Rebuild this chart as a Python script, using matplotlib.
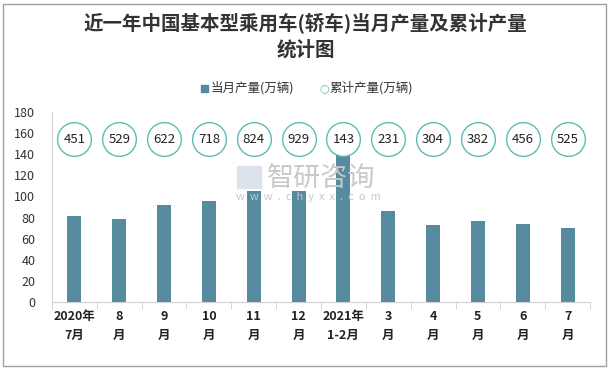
import numpy as np
import matplotlib.pyplot as plt
from matplotlib.patches import Rectangle

plt.rcParams['font.family'] = ['Noto Sans CJK SC', 'DejaVu Sans']

months = ['2020年\n7月', '8\n月', '9\n月', '10\n月', '11\n月', '12\n月',
          '2021年\n1-2月', '3\n月', '4\n月', '5\n月', '6\n月', '7\n月']
monthly = [81.5, 78.6, 91.9, 95.7, 105.1, 105.0, 142.0, 86.2, 72.9, 76.7, 73.9, 70.1]
cumulative = [451, 529, 622, 718, 824, 929, 143, 231, 304, 382, 456, 525]

bar_color = '#558a9f'
ring_color = '#5dbcb2'

fig = plt.figure(figsize=(6.11, 3.69), dpi=100)
ax = fig.add_axes([52/611, 1 - 302/369, (590-52)/611, (302-112)/369])

x = np.arange(len(months))
ax.bar(x, monthly, width=0.31, color=bar_color, zorder=2)

# cumulative values shown as rings at a fixed height
ring_y = np.full(len(x), 154)
ax.scatter(x, ring_y, s=590, facecolor='white', edgecolor=ring_color,
           linewidth=1.0, zorder=3)
for xi, v in zip(x, cumulative):
    ax.text(xi, 154, str(v), ha='center', va='center', fontsize=9.5,
            color='#222222', zorder=4)

ax.set_xlim(-0.5, len(months) - 0.5)
ax.set_ylim(0, 180)
ax.set_yticks(np.arange(0, 181, 20))
ax.tick_params(axis='y', length=0, labelsize=9, colors='#333333', pad=12)

ax.set_xticks(x)
ax.set_xticklabels(months, fontsize=9, fontweight='bold', color='#222222',
                   linespacing=1.6)
ax.tick_params(axis='x', length=0, pad=6)
ax.set_xticks(np.arange(-0.5, len(months), 1), minor=True)
ax.tick_params(axis='x', which='minor', length=5, color='#d0d0d0')

for s in ['top', 'right']:
    ax.spines[s].set_visible(False)
ax.spines['left'].set_color('#d0d0d0')
ax.spines['bottom'].set_color('#d0d0d0')

# watermark
fig.patches.append(Rectangle((237/611, 1 - 188/369), 24/611, 22/369,
                             transform=fig.transFigure, color='#dde3ec', zorder=0))
fig.text(267/611, 1 - 178/369, '智研咨询', fontsize=19.5, color='#c8c8c8',
         ha='left', va='center')
fig.text(236/611, 1 - 197/369, 'w  w  w  .  c  h  y  x  x  .  c  o  m', fontsize=8,
         color='#c8c8c8', ha='left', va='center')

fig.text(0.5, 1 - 24/369, '近一年中国基本型乘用车(轿车)当月产量及累计产量',
         ha='center', va='center', fontsize=14, fontweight='bold', color='#333333')
fig.text(0.5, 1 - 50/369, '统计图', ha='center', va='center', fontsize=14,
         fontweight='bold', color='#333333')

# legend
ly = 1 - 88/369
fig.patches.append(Rectangle((201/611, ly - 3.5/369), 7/611, 7/369,
                             transform=fig.transFigure, color=bar_color))
fig.text(211/611, ly, '当月产量(万辆)', fontsize=9, va='center', color='#333333')
fig.text(319/611, ly, '○', fontsize=8, va='center', color=ring_color,
         family='DejaVu Sans')
fig.text(329/611, ly, '累计产量(万辆)', fontsize=9, va='center', color='#333333')

fig.patches.append(Rectangle((3/611, 3/369), 603/611, 362/369, fill=False,
                             edgecolor='#a0a0a0', linewidth=1,
                             transform=fig.transFigure))

fig.savefig('out.png', dpi=100)
